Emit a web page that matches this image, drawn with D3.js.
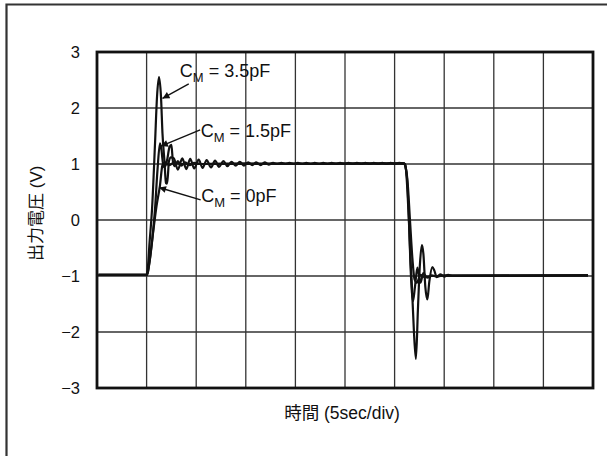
<!DOCTYPE html>
<html>
<head>
<meta charset="utf-8">
<script src="https://cdn.jsdelivr.net/npm/d3@7"></script>
<style>
  body { margin: 0; background: #fff; }
  svg text { font-family: "Liberation Sans", Arial, "Noto Sans CJK JP", sans-serif; fill: #111; }
</style>
</head>
<body>
<svg id="chart"></svg>
<script>
// time in divisions (5 sec/div), output voltage in V
const yTicks = [-3, -2, -1, 0, 1, 2, 3];
const xDivs = [0, 1, 2, 3, 4, 5, 6, 7, 8, 9, 10];

const cm35 = [
  [0.03, -0.98], [1.00, -0.98], [1.02, -0.9], [1.06, -0.4], [1.11, 0.2], [1.17, 1.37],
  [1.21, 2.2], [1.25, 2.55], [1.29, 2.2], [1.32, 1.55], [1.36, 1.05], [1.39, 0.66],
  [1.41, 0.65], [1.43, 0.8], [1.45, 1.05], [1.49, 1.12], [1.55, 1.1], [1.63, 0.9],
  [1.72, 1.1], [1.80, 0.91], [1.88, 1.09], [1.96, 0.92], [2.05, 1.08], [2.13, 0.93],
  [2.21, 1.07], [2.30, 0.94], [2.38, 1.06], [2.46, 0.95], [2.55, 1.05], [2.63, 0.96],
  [2.71, 1.04], [2.80, 0.97], [2.88, 1.04], [2.96, 0.97], [3.05, 1.03], [3.13, 0.98],
  [3.21, 1.03], [3.30, 0.98], [3.38, 1.03], [3.46, 0.99], [3.55, 1.02], [3.63, 1.0],
  [3.72, 1.02], [3.80, 1.0], [3.88, 1.02], [3.97, 1.0], [4.05, 1.02], [4.14, 1.0],
  [4.22, 1.02], [4.31, 1.0], [4.39, 1.02], [4.48, 1.0], [4.56, 1.02], [4.65, 1.0],
  [4.73, 1.02], [4.82, 1.0], [4.90, 1.02], [4.99, 1.0], [5.07, 1.02], [5.16, 1.0],
  [5.24, 1.02], [5.33, 1.0], [5.41, 1.02], [5.50, 1.0], [5.58, 1.02], [5.67, 1.0],
  [5.75, 1.02], [5.84, 1.0], [5.92, 1.02], [6.01, 1.0], [6.09, 1.02], [6.17, 1.01],
  [6.21, 1.0], [6.23, 0.9], [6.26, 0.5], [6.29, -0.05], [6.32, -0.7], [6.35, -1.2],
  [6.39, -2.0], [6.43, -2.48], [6.47, -1.6], [6.51, -0.8], [6.55, -0.45], [6.58, -0.6],
  [6.62, -1.2], [6.66, -1.42], [6.70, -1.1], [6.76, -0.84], [6.80, -0.9], [6.85, -1.02],
  [6.92, -0.97], [7.0, -1.01], [7.08, -0.98], [7.16, -1.0], [9.9, -0.99]
];

const cm15 = [
  [0.03, -0.98], [1.01, -0.98], [1.05, -0.8], [1.12, -0.3], [1.17, 0.2], [1.22, 0.9],
  [1.27, 1.37], [1.30, 1.25], [1.34, 0.95], [1.38, 0.97], [1.42, 1.1], [1.46, 1.3],
  [1.50, 1.34], [1.53, 1.05], [1.57, 0.96], [1.63, 1.05], [1.70, 0.97], [1.78, 1.03],
  [1.87, 0.98], [1.96, 1.02], [2.1, 1.0], [3.0, 1.01], [4.5, 1.0], [6.19, 1.01],
  [6.22, 0.95], [6.25, 0.75], [6.29, 0.0], [6.32, -0.8], [6.35, -1.3], [6.37, -1.45],
  [6.41, -1.2], [6.46, -0.85], [6.52, -1.12], [6.58, -0.95], [6.66, -1.03], [6.75, -0.99],
  [6.85, -1.01], [7.0, -0.99], [9.9, -0.99]
];

const cm0 = [
  [0.03, -0.98], [1.01, -0.98], [1.05, -0.8], [1.12, -0.3], [1.20, 0.25], [1.27, 0.62],
  [1.32, 0.98], [1.38, 1.03], [1.45, 0.98], [1.55, 1.02], [1.7, 1.0], [3.0, 1.0],
  [5.0, 1.01], [6.19, 1.01], [6.22, 0.95], [6.26, 0.7], [6.31, 0.0], [6.36, -0.7],
  [6.40, -1.05], [6.45, -1.12], [6.52, -0.98], [6.60, -1.02], [6.75, -1.0], [9.9, -0.99]
];

const seriesList = [cm35, cm15, cm0];

// label text, label anchor, arrow start, arrow tip (data units)
const labelValues = ["3.5pF", "1.5pF", "0pF"];
const labelAt = [[1.67, 2.55], [2.09, 1.49], [2.10, 0.33]];
const arrowFrom = [[1.85, 2.43], [2.08, 1.61], [2.09, 0.36]];
const arrowTo = [[1.32, 2.17], [1.29, 1.32], [1.25, 0.58]];

const width = 607, height = 456;
const margin = {top: 52, right: 14, bottom: 68, left: 97};

const svg = d3.select('#chart')
    .attr('width', width)
    .attr('height', height);

// outer frame (top and left edges only, as cropped in the original)
svg.append('path')
    .attr('d', `M6.5,${height} L6.5,4.5 L${width},4.5`)
    .attr('fill', 'none')
    .attr('stroke', '#333')
    .attr('stroke-width', 2.2);

const x = d3.scaleLinear()
    .domain([0, 10])
    .range([margin.left, width - margin.right]);

const y = d3.scaleLinear()
    .domain([-3, 3])
    .range([height - margin.bottom, margin.top]);

const chart = svg.append('g');

// grid
chart.append('g')
    .selectAll('line')
    .data(xDivs.slice(1, -1))
    .join('line')
    .attr('x1', d => x(d)).attr('x2', d => x(d))
    .attr('y1', y(-3)).attr('y2', y(3))
    .attr('stroke', '#333')
    .attr('stroke-width', 1.3);

chart.append('g')
    .selectAll('line')
    .data(yTicks.slice(1, -1))
    .join('line')
    .attr('x1', x(0)).attr('x2', x(10))
    .attr('y1', d => y(d)).attr('y2', d => y(d))
    .attr('stroke', '#333')
    .attr('stroke-width', 1.3);

// y tick labels
chart.append('g')
    .selectAll('text')
    .data(yTicks)
    .join('text')
    .attr('x', x(0) - 17)
    .attr('y', d => y(d))
    .attr('dy', '0.36em')
    .attr('text-anchor', 'end')
    .style('font-size', '16.5px')
    .text(d => d < 0 ? '\u2212' + Math.abs(d) : d);

// traces
const line = d3.line()
    .x(d => x(d[0]))
    .y(d => y(d[1]))
    .curve(d3.curveMonotoneX);

chart.append('g')
    .selectAll('path')
    .data(seriesList)
    .join('path')
    .attr('d', line)
    .attr('fill', 'none')
    .attr('stroke', '#111')
    .attr('stroke-width', 2.2)
    .attr('stroke-linejoin', 'round');

// plot frame
chart.append('rect')
    .attr('x', x(0)).attr('y', y(3))
    .attr('width', x(10) - x(0))
    .attr('height', y(-3) - y(3))
    .attr('fill', 'none')
    .attr('stroke', '#111')
    .attr('stroke-width', 2.8);

// annotations
svg.append('defs').append('marker')
    .attr('id', 'head')
    .attr('viewBox', '0 0 10 10')
    .attr('refX', 10).attr('refY', 5)
    .attr('markerWidth', 11).attr('markerHeight', 7)
    .attr('markerUnits', 'userSpaceOnUse')
    .attr('orient', 'auto')
    .append('path')
    .attr('d', 'M0,0 L10,5 L0,10 Z')
    .attr('fill', '#111');

labelValues.forEach((v, i) => {
    chart.append('line')
        .attr('x1', x(arrowFrom[i][0])).attr('y1', y(arrowFrom[i][1]))
        .attr('x2', x(arrowTo[i][0])).attr('y2', y(arrowTo[i][1]))
        .attr('stroke', '#111')
        .attr('stroke-width', 1.4)
        .attr('marker-end', 'url(#head)');

    let t = chart.append('text')
        .attr('x', x(labelAt[i][0]))
        .attr('y', y(labelAt[i][1]))
        .style('font-size', '18px');
    t.append('tspan').text('C');
    t.append('tspan').attr('dy', 5).style('font-size', '13px').text('M');
    t.append('tspan').attr('dy', -5).text(' = ' + v);
});

// axis titles
svg.append('text')
    .attr('transform', `translate(42, ${y(0.12)}) rotate(-90)`)
    .attr('text-anchor', 'middle')
    .style('font-size', '17px')
    .text('出力電圧 (V)');

svg.append('text')
    .attr('x', (x(0) + x(10)) / 2 - 3)
    .attr('y', 419)
    .attr('text-anchor', 'middle')
    .style('font-size', '17.5px')
    .text('時間 (5sec/div)');
</script>
</body>
</html>
